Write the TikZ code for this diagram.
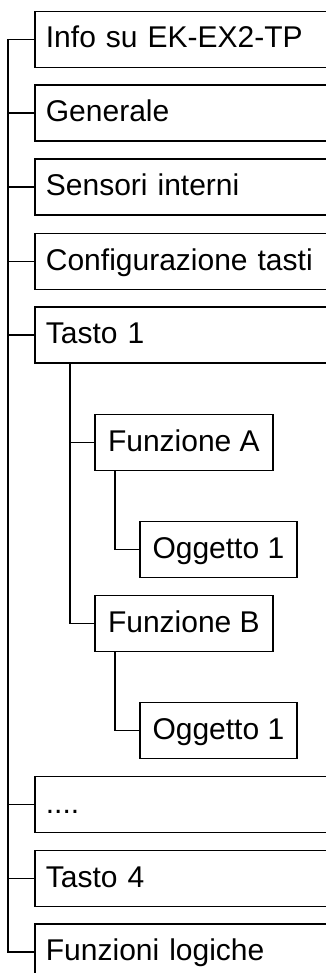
\documentclass[tikz,border=0pt]{standalone}
\usepackage{fontspec}
\setmainfont{Liberation Sans}
\begin{document}
\begin{tikzpicture}[x=1pt,y=-1pt,
  every node/.style={font=\fontsize{30}{34}\selectfont},
  box/.style={draw=black, line width=1.8pt, rectangle, anchor=west,
    minimum height=56pt, inner xsep=11pt, inner ysep=0pt,
    text height=22pt, text depth=5pt},
  topbox/.style={box, text width=300pt, align=left},
  subbox/.style={box, minimum width=#1},
  link/.style={draw=black, line width=1.8pt}]
  \useasboundingbox (0,0) rectangle (326,973);
  \clip (0,0) rectangle (326,973);

  % first level
  \node[topbox] (info)  at (34,39.5) {Info su EK-EX2-TP};
  \node[topbox] (gen)   at (34,113)  {Generale};
  \node[topbox] (sens)  at (34,187)  {Sensori interni};
  \node[topbox] (conf)  at (34,261.5){Configurazione tasti};
  \node[topbox] (t1)    at (34,335)  {Tasto 1};
  \node[topbox] (dots)  at (34,804.5){....};
  \node[topbox] (t4)    at (34,878.5){Tasto 4};
  \node[topbox] (logic) at (34,952)  {Funzioni logiche};

  % functions of key 1 and their objects
  \node[subbox=178pt] (fa) at (94,442.5) {Funzione A};
  \node[subbox=157pt] (oa) at (139,549.5){Oggetto 1};
  \node[subbox=178pt] (fb) at (94,623.5) {Funzione B};
  \node[subbox=157pt] (ob) at (139,730.5){Oggetto 1};

  % main spine
  \coordinate (spine) at (8,0);
  \draw[link] (info.west) -- (info.west -| spine) -- (logic.west -| spine) -- (logic.west);
  \foreach \n in {gen,sens,conf,t1,dots,t4}
    \draw[link] (\n.west) -- (\n.west -| spine);

  % branch of key 1
  \coordinate (t1spine) at (70,0);
  \draw[link] (t1.south -| t1spine) |- (fb.west);
  \draw[link] (fa.west) -- (fa.west -| t1spine);

  % objects under each function
  \coordinate (fspine) at (115,0);
  \draw[link] (fa.south -| fspine) |- (oa.west);
  \draw[link] (fb.south -| fspine) |- (ob.west);
\end{tikzpicture}
\end{document}
